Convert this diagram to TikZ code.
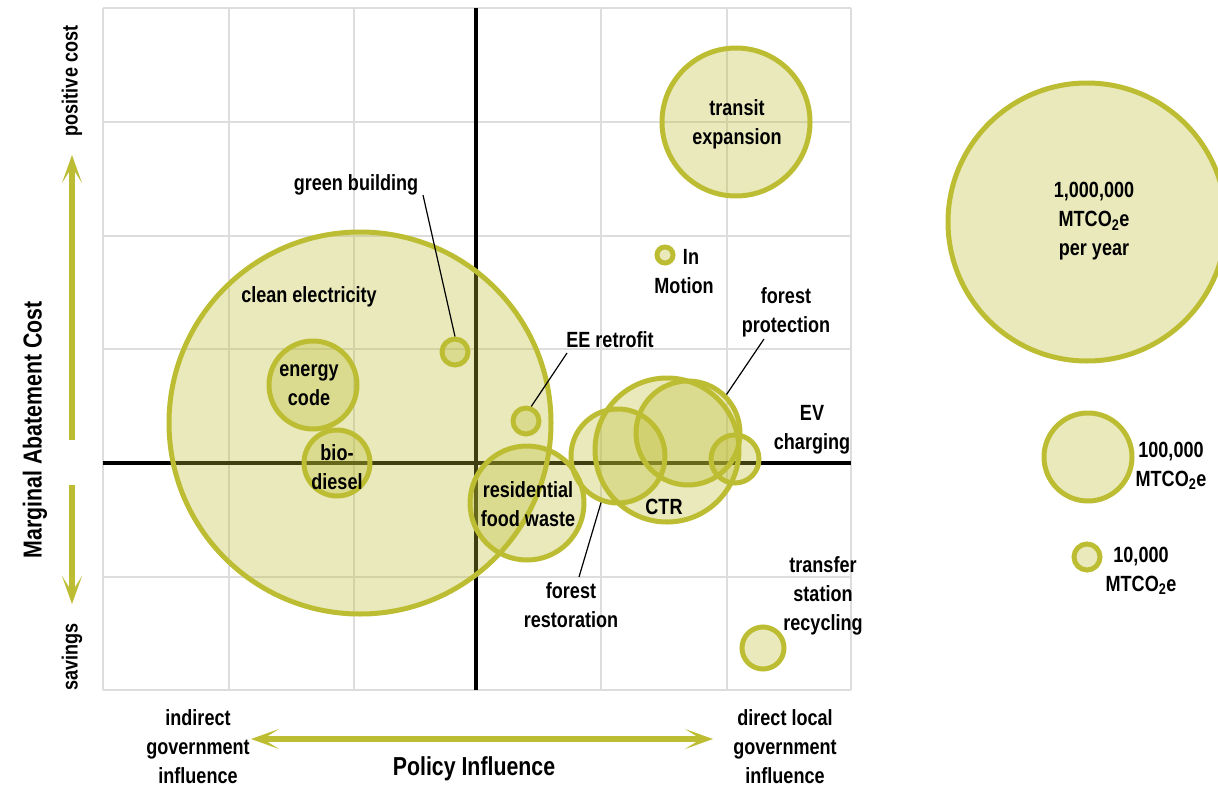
\documentclass[tikz,border=0pt]{standalone}
\usepackage{fontspec}
\setmainfont{Liberation Sans}[FakeStretch=0.82]
\usetikzlibrary{arrows.meta}
\definecolor{olivebub}{RGB}{189,189,52}
\definecolor{gridgray}{RGB}{221,221,221}

\begin{document}
\begin{tikzpicture}[x=1pt, y=-1pt]

% Set the overall look of the chart
\tikzstyle{bubble}=[circle, draw=olivebub, line width=5pt, fill=olivebub, fill opacity=0.33, inner sep=0pt]
\tikzstyle{lbl}=[font=\bfseries\fontsize{22}{29}\selectfont, align=center, inner sep=0pt]
\tikzstyle{axislbl}=[font=\bfseries\fontsize{26}{30}\selectfont, inner sep=0pt]
\tikzstyle{leader}=[draw=black, line width=1.2pt]
\tikzstyle{bigarrow}=[draw=olivebub, line width=6pt]
\tikzstyle{gridline}=[draw=gridgray, line width=1.5pt]

\useasboundingbox (0,0) rectangle (1218,787);

% grid and axes
\foreach \x in {103,229,354,601,727,851}
    \draw[gridline] (\x,8) -- (\x,690);
\foreach \y in {8,122,236,349,577,690}
    \draw[gridline] (103,\y) -- (851,\y);
\draw[line width=4pt] (476,8) -- (476,690);
\draw[line width=4pt] (103,463) -- (851,463);

% bubbles
\node[bubble, minimum size=382pt] (clean) at (360,423) {};
\node[bubble, minimum size=88pt] (energy) at (313,385) {};
\node[bubble, minimum size=66pt] (biodiesel) at (337,463) {};
\node[bubble, minimum size=26pt] (green) at (455,352) {};
\node[bubble, minimum size=26pt] (eeretro) at (526,421) {};
\node[bubble, minimum size=114pt] (foodwaste) at (527,503) {};
\node[bubble, minimum size=94pt] (forestrest) at (618,456) {};
\node[bubble, minimum size=144pt] (ctr) at (667,450) {};
\node[bubble, minimum size=104pt] (forestprot) at (688,433) {};
\node[bubble, minimum size=48pt] (ev) at (735,459) {};
\node[bubble, minimum size=42pt] (transfer) at (763,648) {};
\node[bubble, minimum size=148pt] (transit) at (736,122) {};
\node[bubble, minimum size=16pt] (inmotion) at (665,255) {};

% legend bubbles
\node[bubble, minimum size=278pt] (leg1) at (1087,222) {};
\node[bubble, minimum size=88pt] (leg2) at (1088,457) {};
\node[bubble, minimum size=26pt] (leg3) at (1087,557) {};

% labels
\node[lbl] (greenlbl) at (356,185) {green building};
\node[lbl] (cleanlbl) at (309,297) {clean electricity};
\node[lbl] (energylbl) at (309,385) {energy\\code};
\node[lbl] (biodiesellbl) at (337,467) {bio-\\diesel};
\node[lbl] (transitlbl) at (737,124) {transit\\expansion};
\node[lbl] (inmotionlbl) at (684,272) {\hspace*{14pt}In\\Motion};
\node[lbl] (eeretrolbl) at (610,340) {EE retrofit};
\node[lbl] (forestprotlbl) at (786,312) {forest\\protection};
\node[lbl] (evlbl) at (812,430) {EV\\charging};
\node[lbl] (foodwastelbl) at (528,504) {residential\\food waste};
\node[lbl] (ctrlbl) at (664,507) {CTR};
\node[lbl] (forestrestlbl) at (571,605) {forest\\restoration};
\node[lbl] (transferlbl) at (823,596) {transfer\\station\\recycling};

% legend labels
\node[lbl] (leg1lbl) at (1094,221) {1,000,000\\MTCO\textsubscript{2}e\\per year};
\node[lbl] (leg2lbl) at (1171,466) {100,000\\MTCO\textsubscript{2}e};
\node[lbl] (leg3lbl) at (1141,571) {10,000\\MTCO\textsubscript{2}e};

% leader lines
\coordinate (greenend) at (423,195);
\coordinate (eeretroend) at (567,353);
\coordinate (forestprotend) at (764,339);
\coordinate (forestrestend) at (579,577);
\draw[leader] (greenend) -- (green.north);
\draw[leader] (eeretroend) -- (eeretro.70);
\draw[leader] (forestprotend) -- (forestprot.45);
\draw[leader] (forestrestend) -- (forestrest.-110);

% axis titles and arrows
\node[axislbl, rotate=90] (ytitle) at (35,430) {Marginal Abatement Cost};
\node[lbl, rotate=90] (poscost) at (72,81) {positive cost};
\node[lbl, rotate=90] (savings) at (72,657) {savings};
\coordinate (uptail) at (72,440);
\coordinate (uphead) at (72,155);
\coordinate (downtail) at (72,485);
\coordinate (downhead) at (72,604);
\draw[bigarrow, -{Stealth[length=28pt,width=20pt,inset=16pt]}] (uptail) -- (uphead);
\draw[bigarrow, -{Stealth[length=28pt,width=20pt,inset=16pt]}] (downtail) -- (downhead);

\node[axislbl] (xtitle) at (474,769) {Policy Influence};
\node[lbl] (indirectlbl) at (198,747) {indirect\\government\\influence};
\node[lbl] (directlbl) at (785,747) {direct local\\government\\influence};
\coordinate (leftend) at (251,739);
\coordinate (rightend) at (713,739);
\draw[bigarrow, {Stealth[length=28pt,width=20pt,inset=16pt]}-{Stealth[length=28pt,width=20pt,inset=16pt]}] (leftend) -- (rightend);

\end{tikzpicture}
\end{document}
